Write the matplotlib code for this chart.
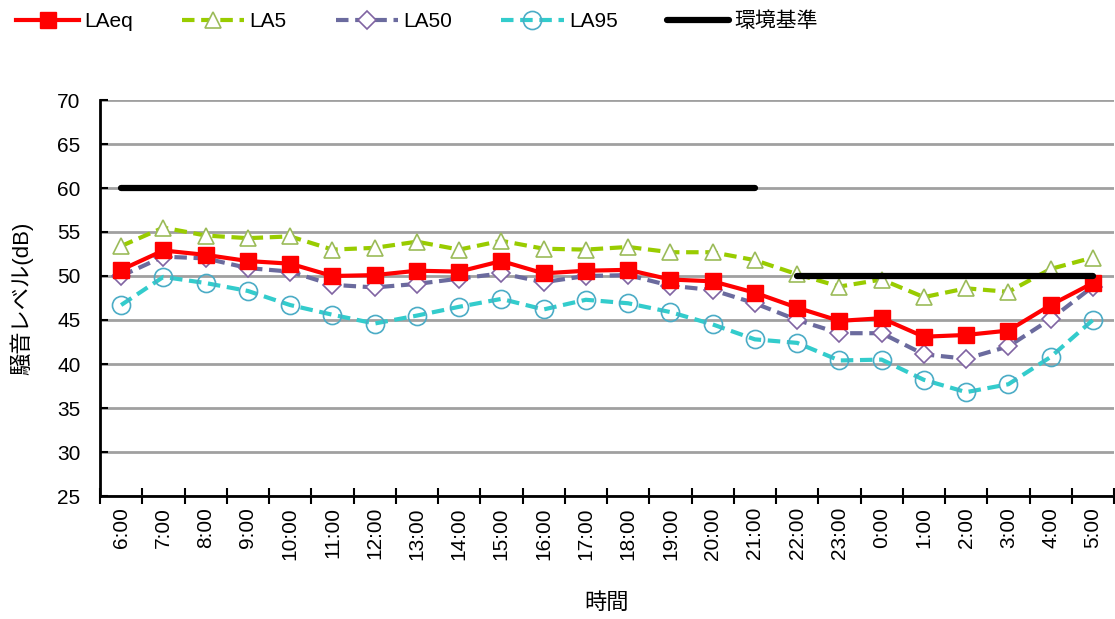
import numpy as np
import matplotlib
matplotlib.use("Agg")
import matplotlib.pyplot as plt

plt.rcParams['font.family'] = ['Liberation Sans', 'Noto Sans CJK JP']

hours = ['6:00', '7:00', '8:00', '9:00', '10:00', '11:00', '12:00', '13:00',
         '14:00', '15:00', '16:00', '17:00', '18:00', '19:00', '20:00', '21:00',
         '22:00', '23:00', '0:00', '1:00', '2:00', '3:00', '4:00', '5:00']

laeq = [50.7, 52.9, 52.4, 51.7, 51.4, 50.0, 50.1, 50.6, 50.5, 51.7, 50.3, 50.6,
        50.7, 49.6, 49.4, 48.1, 46.4, 44.9, 45.2, 43.1, 43.3, 43.8, 46.7, 49.2]
la5 = [53.4, 55.5, 54.6, 54.3, 54.5, 53.0, 53.2, 53.9, 53.0, 54.0, 53.1, 53.0,
       53.3, 52.7, 52.7, 51.8, 50.2, 48.8, 49.6, 47.6, 48.6, 48.2, 50.8, 52.1]
la50 = [50.0, 52.2, 52.0, 50.9, 50.5, 49.0, 48.7, 49.1, 49.7, 50.3, 49.3, 50.0,
        50.1, 48.9, 48.4, 46.9, 45.0, 43.5, 43.5, 41.1, 40.6, 42.0, 45.1, 48.8]
la95 = [46.7, 49.9, 49.2, 48.3, 46.7, 45.6, 44.6, 45.5, 46.5, 47.4, 46.2, 47.3,
        46.9, 45.9, 44.5, 42.8, 42.4, 40.4, 40.5, 38.2, 36.8, 37.7, 40.8, 45.0]
standard = [60] * 16 + [50] * 8
day_std = [v if i < 16 else np.nan for i, v in enumerate(standard)]
night_std = [v if i >= 16 else np.nan for i, v in enumerate(standard)]

x = np.arange(len(hours))

fig = plt.figure(figsize=(11.15, 6.19), dpi=100)
ax = fig.add_axes([100 / 1115, 1 - 496 / 619, 1014 / 1115, 396 / 619])

ax.plot(x, laeq, '-', color='#FF0000', lw=3, marker='s', ms=11,
        mfc='#FF0000', mec='#FF0000', label='LAeq', zorder=5)
ax.plot(x, la5, color='#99CC00', lw=3, dashes=(3, 1.6), marker='^', ms=11,
        mfc='white', mec='#9BBB59', mew=1.2, label='LA5', zorder=4)
ax.plot(x, la50, color='#6B6B9E', lw=3, dashes=(3, 1.6), marker='D', ms=9,
        mfc='white', mec='#8064A2', mew=1.2, label='LA50', zorder=4)
ax.plot(x, la95, color='#33CCCC', lw=3, dashes=(3, 1.6), marker='o', ms=13,
        mfc='none', mec='#4BACC6', mew=1.2, label='LA95', zorder=3)
ax.plot(x, day_std, color='black', lw=4.5, solid_capstyle='round', label='環境基準', zorder=6)
ax.plot(x, night_std, color='black', lw=4.5, solid_capstyle='round', zorder=6)

ax.set_xlim(-0.5, len(hours) - 0.5)
ax.set_ylim(25, 70)
ax.set_yticks(np.arange(25, 71, 5))
ax.set_xticks(x)
ax.set_xticklabels(hours, rotation=90, fontsize=15)
ax.set_xticks(np.arange(-0.5, len(hours), 1), minor=True)
ax.tick_params(axis='x', which='major', length=0, pad=8)
ax.tick_params(axis='x', which='minor', length=12, width=1.5, direction='inout')
ax.tick_params(axis='y', length=6, width=1.5, direction='in', labelsize=15, pad=14)

ax.grid(axis='y', color='#A0A0A0', lw=2)
ax.set_axisbelow(True)
for s in ['top', 'right']:
    ax.spines[s].set_visible(False)
for s in ['left', 'bottom']:
    ax.spines[s].set_linewidth(2)

ax.set_xlabel('時間', fontsize=16, labelpad=24)
ax.set_ylabel('騒音レベル(dB)', fontsize=16, labelpad=17)

fig.legend(loc='upper left', bbox_to_anchor=(0.0045, 1.0), ncol=5, frameon=False,
           fontsize=15, handlelength=3.0, columnspacing=2.35, handletextpad=0.25,
           borderaxespad=0.0, borderpad=0.55)

fig.savefig('out.png', dpi=100)
